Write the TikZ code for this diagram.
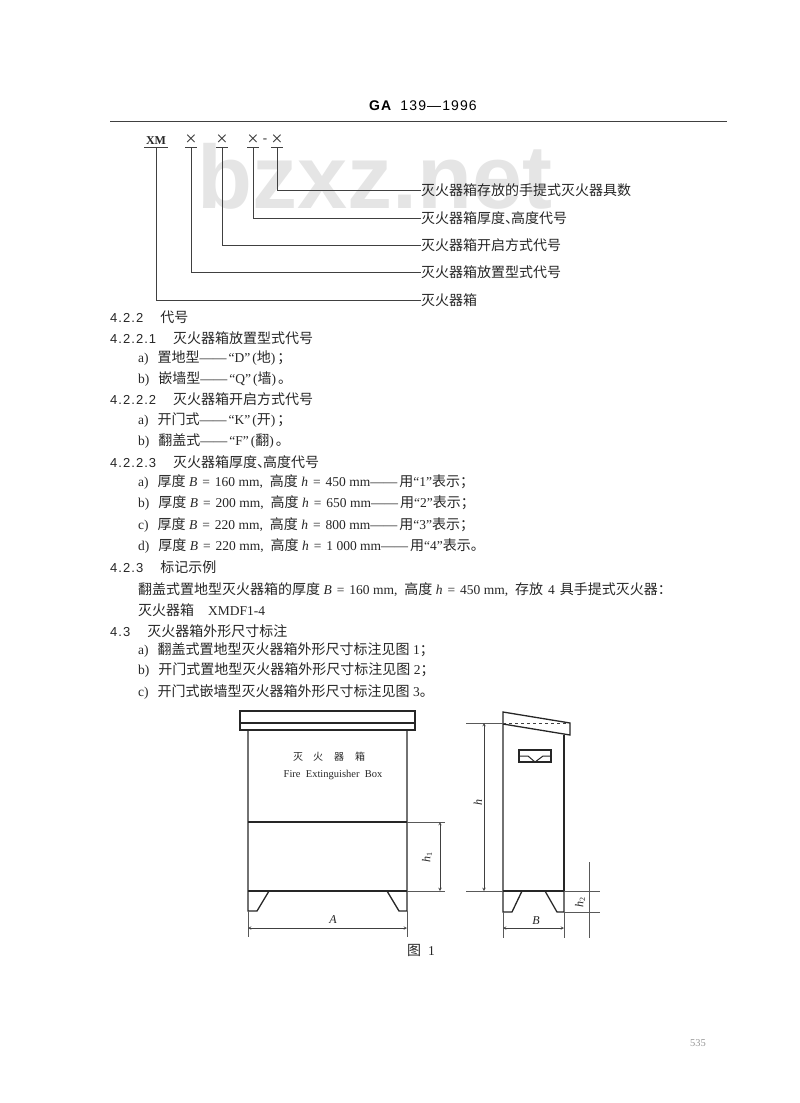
\documentclass[tikz,border=0pt]{standalone}
\usepackage{fontspec}
\setmainfont{Liberation Serif}
\newfontfamily\cjk{Noto Sans CJK SC}
\newfontfamily\numfont[LetterSpace=8]{Liberation Sans}
\newfontfamily\markfont{Liberation Sans}
\newcommand{\zh}[1]{{\fontsize{14}{14}\selectfont\cjk #1}}
\newcommand{\secnum}[1]{{\fontsize{13}{14}\selectfont\numfont #1}}
\newcommand{\eqs}{\kern5pt=\kern5pt}
\newcommand{\cm}{,\hspace{7pt}}
\tikzset{
  txt/.style={anchor=west, inner sep=0pt, font=\fontsize{13.5}{14}\selectfont, text=black!85},
  lab/.style={anchor=west, inner sep=0pt, font=\fontsize{13.5}{14}\selectfont, text=black!85},
  thin line/.style={draw=black!75, line width=0.7pt},
  box line/.style={draw=black!85, line width=1.3pt},
  dim/.style={draw=black!75, line width=0.5pt, <->, >=stealth},
  ext/.style={draw=black!65, line width=0.5pt},
  small/.style={inner sep=0pt, font=\fontsize{10.5}{11}\selectfont, text=black!85},
  crossmark/.style={inner sep=0pt, font=\fontsize{20}{20}\selectfont, text=black!80},
}
\begin{document}
\begin{tikzpicture}[x=1pt, y=-1pt]
\useasboundingbox (0, 0) rectangle (800, 1103);
\node at (375, 176) (mark) {\fontsize{90}{90}\selectfont\markfont\bfseries\textcolor{black!10}{bzxz.net}};
\node at (423, 106) (head) {\fontsize{14}{14}\selectfont\numfont\textbf{GA}\hspace{8pt}139—1996};
\coordinate (ruleL) at (110, 121);
\coordinate (ruleR) at (727, 121);
\draw[thin line, line width=1pt] (ruleL) -- (ruleR);
% code scheme
\node[small, font=\fontsize{12}{12}\selectfont\bfseries] at (156, 141) (xm) {XM};
\node[crossmark] at (191, 140) (xa) {×};
\node[crossmark] at (222, 140) (xb) {×};
\node[crossmark] at (253, 140) (xc) {×};
\node[small, font=\fontsize{13}{13}\selectfont] at (265, 141) (xd) {-};
\node[crossmark] at (277, 140) (xe) {×};
\node[lab] at (421, 190) (la) {\zh{灭火器箱存放的手提式灭火器具数}};
\node[lab] at (421, 218) (lb) {\zh{灭火器箱厚度、\kern-8pt 高度代号}};
\node[lab] at (421, 245) (lc) {\zh{灭火器箱开启方式代号}};
\node[lab] at (421, 272) (ld) {\zh{灭火器箱放置型式代号}};
\node[lab] at (421, 300) (le) {\zh{灭火器箱}};
\coordinate (xmb) at (156, 147);
\coordinate (xab) at (191, 147);
\coordinate (xbb) at (222, 147);
\coordinate (xcb) at (253, 147);
\coordinate (xeb) at (277, 147);
\foreach \n/\w in {xmb/12, xab/6, xbb/6, xcb/6, xeb/6} {
  \draw[thin line] ([xshift=-\w pt]\n) -- ([xshift=\w pt]\n);
}
\draw[thin line] (xmb) |- (le.west);
\draw[thin line] (xab) |- (ld.west);
\draw[thin line] (xbb) |- (lc.west);
\draw[thin line] (xcb) |- (lb.west);
\draw[thin line] (xeb) |- (la.west);
% text of the page
\node[txt] at (110, 317) (s1) {\secnum{4.2.2}\hspace{17pt}\zh{代号}};
\node[txt] at (110, 338) (s2) {\secnum{4.2.2.1}\hspace{17pt}\zh{灭火器箱放置型式代号}};
\node[txt] at (138, 358) (s3) {a)\hspace{9pt}\zh{置地型}——\kern2pt“D”\kern2pt(\zh{地})\kern2pt\zh{；}};
\node[txt] at (138, 379) (s4) {b)\hspace{9pt}\zh{嵌墙型}——\kern2pt“Q”\kern2pt(\zh{墙})\kern2pt\zh{。}};
\node[txt] at (110, 399) (s5) {\secnum{4.2.2.2}\hspace{17pt}\zh{灭火器箱开启方式代号}};
\node[txt] at (138, 420) (s6) {a)\hspace{9pt}\zh{开门式}——\kern2pt“K”\kern2pt(\zh{开})\kern2pt\zh{；}};
\node[txt] at (138, 441) (s7) {b)\hspace{9pt}\zh{翻盖式}——\kern2pt“F”\kern2pt(\zh{翻})\kern2pt\zh{。}};
\node[txt] at (110, 462) (s8) {\secnum{4.2.2.3}\hspace{17pt}\zh{灭火器箱厚度、\kern-8pt 高度代号}};
\node[txt] at (138, 482) (s9) {a)\hspace{9pt}\zh{厚度} \textit{B}\eqs 160 mm\cm\zh{高度} \textit{h}\eqs 450 mm——\kern2pt\zh{用}“1”\zh{表示；}};
\node[txt] at (138, 503) (s10) {b)\hspace{9pt}\zh{厚度} \textit{B}\eqs 200 mm\cm\zh{高度} \textit{h}\eqs 650 mm——\kern2pt\zh{用}“2”\zh{表示；}};
\node[txt] at (138, 525) (s11) {c)\hspace{9pt}\zh{厚度} \textit{B}\eqs 220 mm\cm\zh{高度} \textit{h}\eqs 800 mm——\kern2pt\zh{用}“3”\zh{表示；}};
\node[txt] at (138, 546) (s12) {d)\hspace{9pt}\zh{厚度} \textit{B}\eqs 220 mm\cm\zh{高度} \textit{h}\eqs 1 000 mm——\kern2pt\zh{用}“4”\zh{表示。}};
\node[txt] at (110, 567) (s13) {\secnum{4.2.3}\hspace{17pt}\zh{标记示例}};
\node[txt] at (138, 590) (s14) {\zh{翻盖式置地型灭火器箱的厚度} \textit{B}\eqs 160 mm\cm\zh{高度} \textit{h}\eqs 450 mm\cm\zh{存放}\hspace{5pt}4\hspace{5pt}\zh{具手提式灭火器：}};
\node[txt] at (138, 610) (s15) {\zh{灭火器箱}\hspace{14pt}XMDF1-4};
\node[txt] at (110, 631) (s16) {\secnum{4.3}\hspace{17pt}\zh{灭火器箱外形尺寸标注}};
\node[txt] at (138, 650) (s17) {a)\hspace{9pt}\zh{翻盖式置地型灭火器箱外形尺寸标注见图} 1\zh{；}};
\node[txt] at (138, 670) (s18) {b)\hspace{9pt}\zh{开门式置地型灭火器箱外形尺寸标注见图} 2\zh{；}};
\node[txt] at (138, 692) (s19) {c)\hspace{9pt}\zh{开门式嵌墙型灭火器箱外形尺寸标注见图} 3\zh{。}};
% front view
\draw[box line] (240, 711) rectangle (415, 730);
\draw[box line] (240, 723) -- (415, 723);
\draw[box line] (248, 730) -- (248, 911) -- (257, 911) -- (269, 891);
\draw[box line] (407, 730) -- (407, 911) -- (399, 911) -- (387, 891);
\draw[box line] (248, 891) -- (407, 891);
\draw[box line] (248, 822) -- (407, 822);
\node[small] at (298, 757) (ca) {\fontsize{10}{10}\selectfont\cjk 灭};
\node[small] at (318, 757) (cb) {\fontsize{10}{10}\selectfont\cjk 火};
\node[small] at (339, 757) (cc) {\fontsize{10}{10}\selectfont\cjk 器};
\node[small] at (360, 757) (cd) {\fontsize{10}{10}\selectfont\cjk 箱};
\node[small] at (333, 775) (fire) {Fire\ \ Extinguisher\ \ Box};
\draw[ext] (407, 822) -- (445, 822);
\draw[ext] (407, 891) -- (445, 891);
\draw[ext] (248, 911) -- (248, 937);
\draw[ext] (407, 911) -- (407, 937);
\draw[dim] (248, 928) -- (407, 928);
\draw[dim] (440, 822) -- (440, 891);
\node[small, font=\fontsize{12}{12}\selectfont] at (333, 920) (dimA) {\textit{A}};
\node[small, rotate=90, font=\fontsize{12}{12}\selectfont] at (427, 857) (dimHa) {\textit{h}\textsubscript{1}};
\node[small] at (421, 950) (fig) {\zh{图}\hspace{7pt}{\fontsize{13.5}{14}\selectfont 1}};
% side view
\draw[box line] (503, 891) -- (503, 712) -- (570, 723) -- (570, 735) -- (503, 724);
\draw[box line] (564, 735) -- (564, 891);
\draw[box line] (503, 891) -- (564, 891);
\draw[box line] (503, 891) -- (503, 912) -- (512, 912) -- (522, 891);
\draw[box line] (564, 891) -- (564, 912) -- (557, 912) -- (545, 891);
\draw[draw=black!75, line width=0.6pt, dashed] (503, 723) -- (570, 723);
\draw[box line] (519, 750) rectangle (551, 762);
\draw[box line, line width=1pt] (519, 756) -- (528, 756) -- (535, 762) -- (543, 756) -- (551, 756);
\draw[ext] (466, 723) -- (503, 723);
\draw[ext] (466, 891) -- (503, 891);
\draw[ext] (564, 891) -- (600, 891);
\draw[ext] (564, 912) -- (600, 912);
\draw[ext] (503, 912) -- (503, 938);
\draw[ext] (564, 912) -- (564, 938);
\draw[ext] (589, 862) -- (589, 938);
\draw[dim] (484, 723) -- (484, 891);
\draw[dim] (503, 928) -- (564, 928);
\node[small, font=\fontsize{12}{12}\selectfont] at (536, 921) (dimB) {\textit{B}};
\node[small, rotate=90, font=\fontsize{12}{12}\selectfont] at (478, 802) (dimH) {\textit{h}};
\node[small, rotate=90, font=\fontsize{12}{12}\selectfont] at (580, 902) (dimHb) {\textit{h}\textsubscript{2}};
\node[small, text=black!40] at (698, 1043) (page) {535};
\end{tikzpicture}
\end{document}
